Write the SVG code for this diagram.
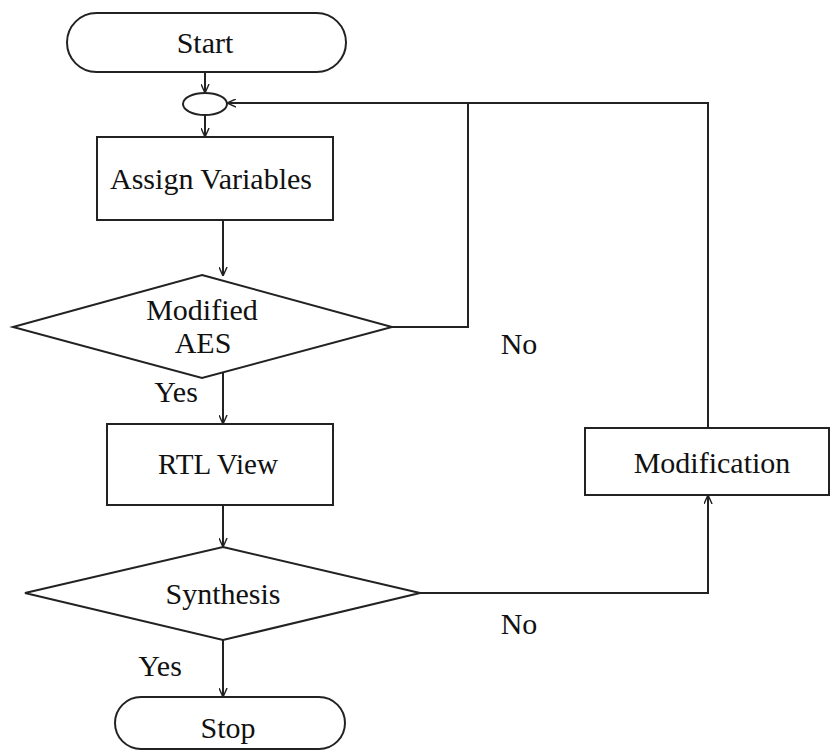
<svg xmlns="http://www.w3.org/2000/svg" width="832" height="752" viewBox="0 0 832 752">
<style>
.s{fill:#fff;stroke:#222;stroke-width:2}
.c{fill:none;stroke:#222;stroke-width:2}
</style>
<defs>
<marker id="a" viewBox="0 0 10 10" refX="10" refY="5" markerWidth="9" markerHeight="9" markerUnits="userSpaceOnUse" orient="auto">
<path d="M0,0.5 L10,5 L0,9.5" fill="none" stroke="#222" stroke-width="1.6"/>
</marker>
</defs>
<rect width="832" height="752" fill="#fff"/>
<g id="connectors">
<line class="c" x1="205" y1="72" x2="205" y2="93" marker-end="url(#a)"/>
<line class="c" x1="205" y1="115" x2="205" y2="137" marker-end="url(#a)"/>
<line class="c" x1="223" y1="220" x2="223" y2="276" marker-end="url(#a)"/>
<line class="c" x1="223" y1="372" x2="223" y2="424" marker-end="url(#a)"/>
<line class="c" x1="223" y1="505" x2="223" y2="547" marker-end="url(#a)"/>
<line class="c" x1="223" y1="640" x2="223" y2="697" marker-end="url(#a)"/>
<polyline class="c" points="420,593 708,593 708,495" marker-end="url(#a)"/>
<polyline class="c" points="708,428 708,103 227,103" marker-end="url(#a)"/>
<polyline class="c" points="392,327 468,327 468,103"/>
</g>
<g id="start">
<rect class="s" x="67" y="13" width="279" height="59" rx="29.5"/>
<text font-family="Liberation Serif" font-size="30" fill="#111" text-anchor="middle" x="205" y="53">Start</text>
</g>
<g id="junction">
<ellipse class="s" cx="205" cy="104" rx="22" ry="11"/>
</g>
<g id="assign">
<rect class="s" x="97" y="137" width="236" height="83"/>
<text font-family="Liberation Serif" font-size="30" fill="#111" text-anchor="middle" x="211" y="189">Assign Variables</text>
</g>
<g id="aes">
<polygon class="s" points="202,275 392,327 202,378 13,327"/>
<text font-family="Liberation Serif" font-size="30" fill="#111" text-anchor="middle" x="202" y="320">Modified</text>
<text font-family="Liberation Serif" font-size="30" fill="#111" text-anchor="middle" x="203" y="353">AES</text>
</g>
<g id="rtl">
<rect class="s" x="107" y="424" width="226" height="81"/>
<text font-family="Liberation Serif" font-size="30" fill="#111" text-anchor="middle" x="218" y="474" textLength="120" lengthAdjust="spacingAndGlyphs">RTL View</text>
</g>
<g id="synthesis">
<polygon class="s" points="223,547 420,593 223,640 25,593"/>
<text font-family="Liberation Serif" font-size="30" fill="#111" text-anchor="middle" x="223" y="604">Synthesis</text>
</g>
<g id="stop">
<rect class="s" x="115" y="697" width="230" height="52" rx="26"/>
<text font-family="Liberation Serif" font-size="30" fill="#111" text-anchor="middle" x="228" y="738">Stop</text>
</g>
<g id="modification">
<rect class="s" x="585" y="428" width="244" height="67"/>
<text font-family="Liberation Serif" font-size="30" fill="#111" text-anchor="middle" x="712" y="473">Modification</text>
</g>
<g id="labels">
<text font-family="Liberation Serif" font-size="30" fill="#111" text-anchor="middle" x="519" y="354">No</text>
<text font-family="Liberation Serif" font-size="30" fill="#111" text-anchor="middle" x="176" y="402">Yes</text>
<text font-family="Liberation Serif" font-size="30" fill="#111" text-anchor="middle" x="519" y="634">No</text>
<text font-family="Liberation Serif" font-size="30" fill="#111" text-anchor="middle" x="160" y="676">Yes</text>
</g>
</svg>
